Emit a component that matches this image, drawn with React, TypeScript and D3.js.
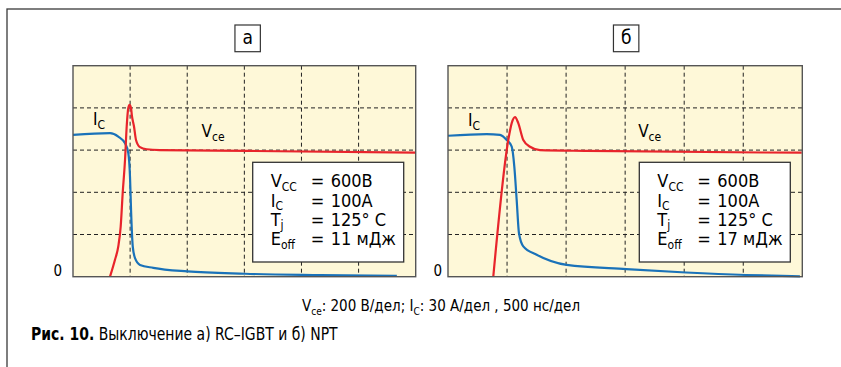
import * as d3 from "d3";
import React, { useRef, useEffect } from "react";

// time in divisions (500 ns/div), value in divisions
const vceA: [number, number][] = [
  [0.648, 0], [0.735, 0.4], [0.793, 0.72], [0.835, 1.19], [0.87, 1.98], [0.911, 2.77],
  [0.94, 3.56], [0.968, 4.0], [0.99, 4.07], [1.016, 4.0], [1.03, 3.83], [1.068, 3.56],
  [1.103, 3.24], [1.173, 3.07], [1.29, 3.02], [1.52, 3.0], [3.1, 2.98], [6.0, 2.94],
];
const icA: [number, number][] = [
  [0, 3.36], [0.648, 3.4], [0.793, 3.32], [0.911, 3.16], [0.968, 2.93], [0.998, 2.37],
  [1.016, 1.59], [1.046, 0.72], [1.086, 0.44], [1.173, 0.28], [1.406, 0.21], [2.0, 0.125],
  [3.01, 0.07], [4.33, 0.04], [5.67, 0.02],
];
const vceB: [number, number][] = [
  [0.767, 0], [1.021, 3.24], [1.079, 3.64], [1.135, 3.78], [1.19, 3.64], [1.275, 3.24],
  [1.389, 3.08], [1.558, 3.0], [2.35, 2.98], [5.99, 2.94],
];
const icB: [number, number][] = [
  [0, 3.34], [0.655, 3.38], [0.88, 3.36], [0.994, 3.24], [1.079, 3.08], [1.123, 2.61],
  [1.163, 1.82], [1.202, 1.03], [1.275, 0.72], [1.502, 0.52], [2.01, 0.28], [3.02, 0.18],
  [4.03, 0.1], [5.04, 0.04], [5.96, 0.01],
];

const panelNames = ["а", "б"];
const infoSymbols = ["V", "I", "T", "E"];
const infoSubs = ["CC", "C", "j", "off"];
const infoValuesA = ["600В", "100А", "125° C", "11 мДж"];
const infoValuesB = ["600В", "100А", "125° C", "17 мДж"];
const scaleNote = [
  ["V", "ce", ": 200 В/дел; "],
  ["I", "C", ": 30 А/дел , 500 нс/дел"],
];
const captionBold = "Рис. 10.";
const captionText = " Выключение а) RC–IGBT и б) NPT";

const App: React.FC = () => {
  const svgRef = useRef<SVGSVGElement>(null);

  useEffect(() => {
    const svg = d3.select(svgRef.current);
    svg.selectAll("*").remove();

    const width = 841;
    const height = 367;
    const top = 65.7;
    const bottom = 276.7;
    const font = "'Liberation Sans Narrow', 'DejaVu Sans Condensed', 'Roboto', sans-serif";

    svg.attr("width", width).attr("height", height).attr("viewBox", `0 0 ${width} ${height}`);

    svg.append("rect").attr("width", width).attr("height", height).attr("fill", "white");

    // outer frame
    svg.append("rect")
      .attr("x", 7).attr("y", 9)
      .attr("width", 900).attr("height", 500)
      .attr("fill", "none").attr("stroke", "#3a3a3a").attr("stroke-width", 1.3);

    const panels = [
      { name: panelNames[0], left: 73, right: 415.7, boxShift: 3.3, zeroGap: 11, vce: vceA, ic: icA, info: infoValuesA, icLab: [0.35, 3.6], vceLab: [2.25, 3.3] },
      { name: panelNames[1], left: 448, right: 802.3, boxShift: 1, zeroGap: 6, vce: vceB, ic: icB, info: infoValuesB, icLab: [0.34, 3.58], vceLab: [3.22, 3.3] },
    ];

    panels.forEach(p => {
      const x = d3.scaleLinear().domain([0, 6]).range([p.left, p.right]);
      const y = d3.scaleLinear().domain([0, 5]).range([bottom, top]);
      const g = svg.append("g");

      g.append("rect")
        .attr("x", x(0)).attr("y", y(5))
        .attr("width", x(6) - x(0)).attr("height", y(0) - y(5))
        .attr("fill", "#fef8d8");

      // grid
      g.append("g")
        .selectAll("line")
        .data(d3.range(1, 6))
        .join("line")
        .attr("x1", d => x(d)).attr("x2", d => x(d))
        .attr("y1", y(5)).attr("y2", y(0))
        .attr("stroke", "#222").attr("stroke-width", 1).attr("stroke-dasharray", "4,3");
      g.append("g")
        .selectAll("line")
        .data(d3.range(1, 5))
        .join("line")
        .attr("x1", x(0)).attr("x2", x(6))
        .attr("y1", d => y(d)).attr("y2", d => y(d))
        .attr("stroke", "#222").attr("stroke-width", 1).attr("stroke-dasharray", "4,3");

      const line = d3.line<[number, number]>()
        .curve(d3.curveMonotoneX)
        .x(d => x(d[0]))
        .y(d => y(d[1]));

      g.append("path").datum(p.ic)
        .attr("fill", "none").attr("stroke", "#1a72b9").attr("stroke-width", 2.2)
        .attr("d", line);
      g.append("path").datum(p.vce)
        .attr("fill", "none").attr("stroke", "#e8242b").attr("stroke-width", 2.2)
        .attr("d", line);

      g.append("rect")
        .attr("x", x(0)).attr("y", y(5))
        .attr("width", x(6) - x(0)).attr("height", y(0) - y(5))
        .attr("fill", "none").attr("stroke", "#555").attr("stroke-width", 1.4);

      // zero label
      g.append("text")
        .attr("x", x(0) - p.zeroGap).attr("y", y(0) - 1)
        .attr("text-anchor", "end")
        .attr("font-family", font).attr("font-size", 15)
        .text("0");

      // curve labels
      const icT = g.append("text")
        .attr("x", x(p.icLab[0])).attr("y", y(p.icLab[1]))
        .attr("font-family", font).attr("font-size", 17);
      icT.append("tspan").text("I");
      icT.append("tspan").attr("dy", 4).attr("font-size", 12).text("C");

      const vT = g.append("text")
        .attr("x", x(p.vceLab[0])).attr("y", y(p.vceLab[1]))
        .attr("font-family", font).attr("font-size", 17);
      vT.append("tspan").text("V");
      vT.append("tspan").attr("dy", 4).attr("font-size", 12).text("ce");

      // panel name box
      const cx = (p.left + p.right) / 2 + p.boxShift;
      g.append("rect")
        .attr("x", cx - 12.7).attr("y", 25)
        .attr("width", 25.4).attr("height", 26.7)
        .attr("fill", "white").attr("stroke", "#333").attr("stroke-width", 1.2);
      g.append("text")
        .attr("x", cx).attr("y", 44)
        .attr("text-anchor", "middle")
        .attr("font-family", font).attr("font-size", 19)
        .text(p.name);

      // info box
      const bx = x(6) - 12 - 151;
      const by = 162.3;
      g.append("rect")
        .attr("x", bx).attr("y", by)
        .attr("width", 151).attr("height", 99.7)
        .attr("fill", "white").attr("stroke", "#333").attr("stroke-width", 1.3);
      infoSymbols.forEach((s, i) => {
        const yy = by + 25 + i * 19.3;
        const t = g.append("text")
          .attr("x", bx + 18).attr("y", yy)
          .attr("font-family", font).attr("font-size", 18);
        t.append("tspan").text(s);
        t.append("tspan").attr("dy", 3.5).attr("font-size", 12).text(infoSubs[i]);
        g.append("text")
          .attr("x", bx + 58).attr("y", yy)
          .attr("font-family", font).attr("font-size", 18)
          .text("=");
        g.append("text")
          .attr("x", bx + 78).attr("y", yy)
          .attr("font-family", font).attr("font-size", 18)
          .text(p.info[i]);
      });
    });

    // scale note
    const note = svg.append("text")
      .attr("x", 441).attr("y", 311)
      .attr("text-anchor", "middle")
      .attr("font-family", font).attr("font-size", 15);
    scaleNote.forEach(([s, sub, rest]) => {
      note.append("tspan").attr("dy", 0).text(s);
      note.append("tspan").attr("dy", 4).attr("font-size", 10).text(sub);
      note.append("tspan").attr("dy", -4).text(rest);
    });

    // figure caption (condensed face)
    const cap = svg.append("text")
      .attr("transform", "translate(31,340) scale(0.84,1)")
      .attr("font-family", font).attr("font-size", 18.5);
    cap.append("tspan").attr("font-weight", "bold").text(captionBold);
    cap.append("tspan").text(captionText);
  }, []);

  return (
    <svg ref={svgRef} style={{ position: "absolute", left: 0, top: 0, display: "block" }}></svg>
  );
};

export default App;
